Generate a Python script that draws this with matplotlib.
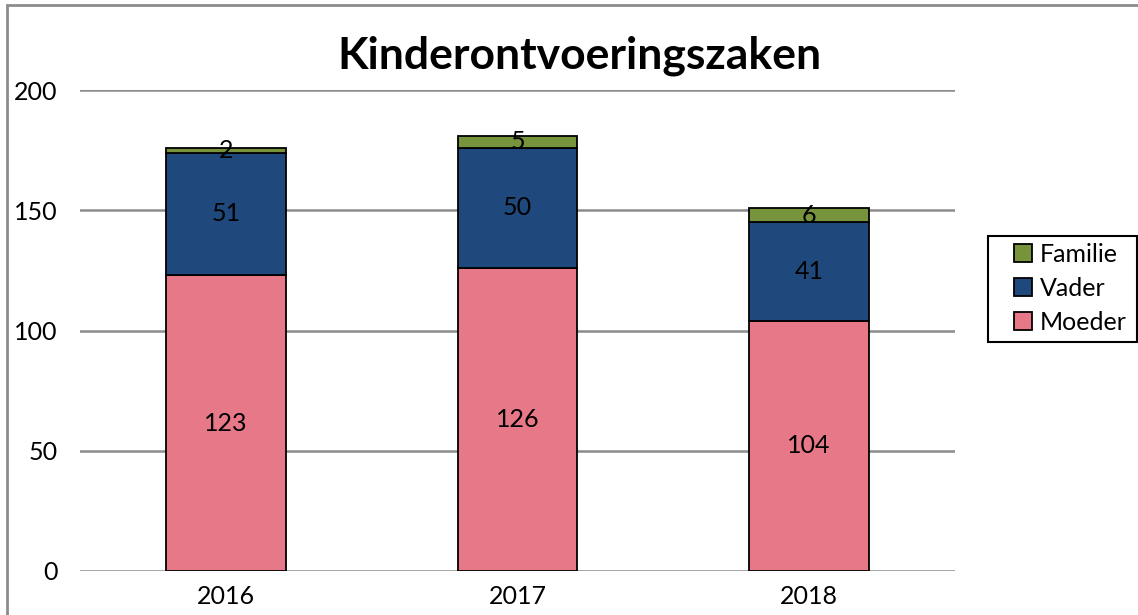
import matplotlib.pyplot as plt
from matplotlib.patches import Rectangle
import numpy as np

plt.rcParams['font.family'] = ['Lato', 'DejaVu Sans']

jaren = ['2016', '2017', '2018']
moeder = [123, 126, 104]
vader = [51, 50, 41]
familie = [2, 5, 6]

kleuren = {'Moeder': '#E67888', 'Vader': '#1F497D', 'Familie': '#77933C'}

W, H = 1138, 615
fig = plt.figure(figsize=(W / 100, H / 100), dpi=100)
ax = fig.add_axes([80/W, 44/H, 875/W, 481/H])

x = np.arange(len(jaren))
breedte = 0.41
onder = np.zeros(len(jaren))
balken = {}
for naam, waarden in [('Moeder', moeder), ('Vader', vader), ('Familie', familie)]:
    b = ax.bar(x, waarden, breedte, bottom=onder, color=kleuren[naam],
               edgecolor='black', linewidth=1.3, label=naam, zorder=3)
    balken[naam] = b
    for xi, o, w in zip(x, onder, waarden):
        ax.text(xi, o + w / 2, str(w), ha='center', va='center', fontsize=18, zorder=4)
    onder = onder + np.array(waarden)

ax.set_xlim(-0.5, 2.5)
ax.set_ylim(0, 200)
ax.set_yticks([0, 50, 100, 150, 200])
ax.set_xticks(x)
ax.set_xticklabels(jaren)
ax.tick_params(axis='both', length=0, labelsize=18)
ax.tick_params(axis='y', pad=16)
ax.tick_params(axis='x', pad=10)
ax.grid(axis='y', color='#8C8C8C', linewidth=1.8, zorder=0)
for s in ax.spines.values():
    s.set_visible(False)

fig.text(579/W, 1 - 56/H, 'Kinderontvoeringszaken', fontsize=32, fontweight='bold',
         ha='center', va='center')

handles = [balken['Familie'], balken['Vader'], balken['Moeder']]
leg = fig.legend(handles, ['Familie', 'Vader', 'Moeder'], loc='upper left',
                 bbox_to_anchor=(1011/W, 1 - 240/H), fontsize=18, borderaxespad=0,
                 frameon=False, handlelength=0.75, handleheight=0.75,
                 handletextpad=0.3, borderpad=0.1, labelspacing=0.45)
# legendakader
fig.patches.append(Rectangle((988/W, 1 - 342/H), 149/W, 106/H, transform=fig.transFigure,
                             fill=False, edgecolor='black', linewidth=1.5))

# rand om de hele grafiek
fig.patches.append(Rectangle((7/W, -0.05), 1.2, 1 - 5/H + 0.05, transform=fig.transFigure,
                             fill=False, edgecolor='#8C8C8C', linewidth=2))

fig.savefig('out.png', dpi=100)
